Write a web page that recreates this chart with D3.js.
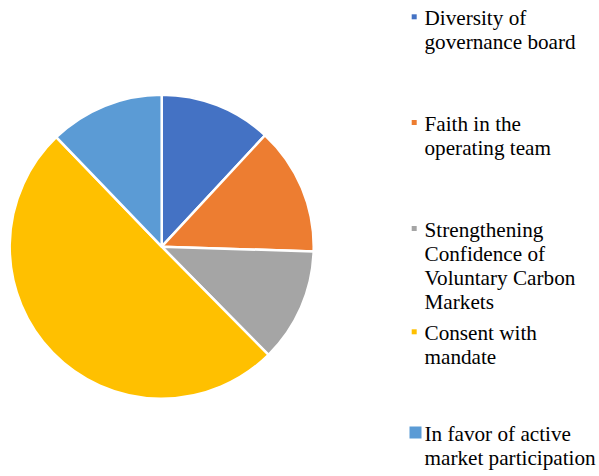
<!DOCTYPE html>
<html>
<head>
<meta charset="utf-8">
<script src="https://cdn.jsdelivr.net/npm/d3@7/dist/d3.min.js"></script>
<style>
  html, body { margin: 0; padding: 0; background: #fff; }
  svg { display: block; }
  .legend text { font-family: "Liberation Serif", "Times New Roman", "DejaVu Serif", serif; }
</style>
</head>
<body>
<svg id="chart" width="599" height="476"></svg>
<script>
const categories = [
  "Diversity of governance board",
  "Faith in the operating team",
  "Strengthening Confidence of Voluntary Carbon Markets",
  "Consent with mandate",
  "In favor of active market participation"
];
const values = [11.9, 13.6, 12.1, 50.2, 12.2];
const legendLines = [
  ["Diversity of", "governance board"],
  ["Faith in the", "operating team"],
  ["Strengthening", "Confidence of", "Voluntary Carbon", "Markets"],
  ["Consent with", "mandate"],
  ["In favor of active", "market participation"]
];
const colors = ["#4472C4", "#ED7D31", "#A5A5A5", "#FFC000", "#5B9BD5"];

const svg = d3.select("#chart");
const cx = 161.7, cy = 246.7, r = 152;

const pie = d3.pie().value(d => d).sort(null);
const arc = d3.arc().innerRadius(0).outerRadius(r);
const color = d3.scaleOrdinal().domain(categories).range(colors);

svg.append("g")
  .attr("transform", `translate(${cx},${cy})`)
  .selectAll("path")
  .data(pie(values))
  .join("path")
  .attr("d", arc)
  .attr("fill", (d, i) => color(categories[i]))
  .attr("stroke", "#fff")
  .attr("stroke-width", 2.5)
  .attr("stroke-linejoin", "round");

// Legend layout
const legendBaselines = [25, 130.7, 236.7, 340, 440.7];
const lineH = 24;
const textX = 424.5;
const markerSizes = [5, 5, 5, 5, 12];

const lg = svg.append("g").attr("class", "legend");
categories.forEach((c, i) => {
  const b = legendBaselines[i];
  const s = markerSizes[i];
  const mx = i === 4 ? 409.5 : 411.7;
  lg.append("rect")
    .attr("x", mx)
    .attr("y", b - 8.2 - s / 2)
    .attr("width", s)
    .attr("height", s)
    .attr("fill", color(c));
  const t = lg.append("text")
    .attr("x", textX)
    .attr("y", b)
    .attr("font-size", 21.2)
    .attr("fill", "#000");
  legendLines[i].forEach((ln, j) => {
    t.append("tspan").attr("x", textX).attr("y", b + j * lineH).text(ln);
  });
});
</script>
</body>
</html>
